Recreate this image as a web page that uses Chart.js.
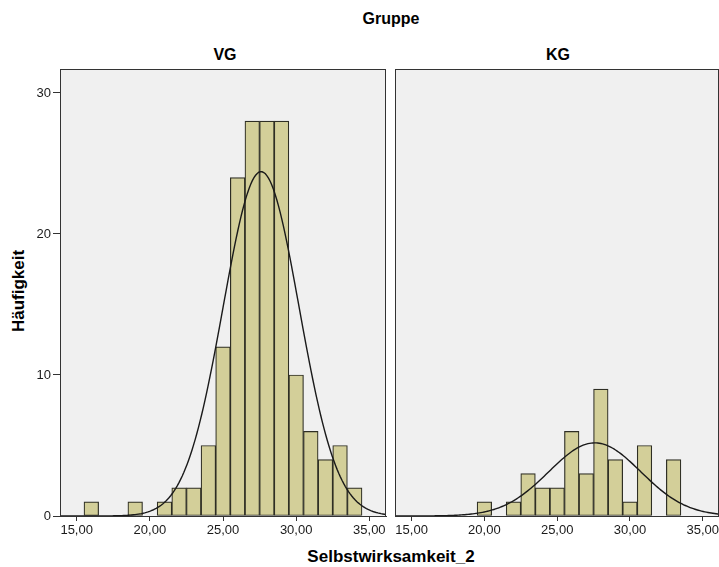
<!DOCTYPE html>
<html>
<head>
<meta charset="utf-8">
<script src="https://cdn.jsdelivr.net/npm/chart.js@4/dist/chart.umd.min.js"></script>
<style>
  html, body { margin: 0; padding: 0; background: #fff; }
  body { width: 719px; height: 567px; position: relative; overflow: hidden; font-family: "Liberation Sans", Arial, sans-serif; }
  .panel { position: absolute; top: 0; height: 567px; }
  .lbl { position: absolute; font-weight: bold; color: #000; white-space: nowrap; transform: translate(-50%, -50%); font-size: 16px; }
</style>
</head>
<body>
<div class="lbl" style="left:391px; top:19px;">Gruppe</div>
<div class="lbl" style="left:225px; top:55px;">VG</div>
<div class="lbl" style="left:558px; top:55px;">KG</div>
<div class="lbl" style="left:19px; top:291px; font-size:17px; transform: translate(-50%, -50%) rotate(-90deg);">Häufigkeit</div>
<div class="lbl" style="left:391px; top:557px; font-size:17px;">Selbstwirksamkeit_2</div>

<div class="panel" style="left:0; width:390px;"><canvas id="vg"></canvas></div>
<div class="panel" style="left:390px; width:331px;"><canvas id="kg"></canvas></div>

<script>
// bin centres (width 1) and counts per group
const bins = [15, 16, 17, 18, 19, 20, 21, 22, 23, 24, 25, 26, 27, 28, 29, 30, 31, 32, 33, 34, 35];
const countsVG = [0, 1, 0, 0, 1, 0, 1, 2, 2, 5, 12, 24, 28, 28, 28, 10, 6, 4, 5, 2, 0];
const countsKG = [0, 0, 0, 0, 0, 1, 0, 1, 3, 2, 2, 6, 3, 9, 4, 1, 5, 0, 4, 0, 0];
const xTicks = [15, 20, 25, 30, 35];
const yTicks = [0, 10, 20, 30];

const X_MIN = 13.86, X_MAX = 36.14, Y_MAX = 31.7;
const barFill = '#d3cf99';
const barLine = '#2e2e24';
const axisCol = '#333333';

function barPoints(counts) {
  return bins.map((b, i) => ({ x: b, y: counts[i] })).filter(p => p.y > 0);
}

// normal curve fitted to the histogram (mean / sd of the binned data, scaled to N * bin width)
function normalCurve(counts) {
  let n = 0, s = 0;
  bins.forEach((b, i) => { n += counts[i]; s += b * counts[i]; });
  const mean = s / n;
  let ss = 0;
  bins.forEach((b, i) => { ss += counts[i] * (b - mean) * (b - mean); });
  const sd = Math.sqrt(ss / (n - 1));
  const pts = [];
  const steps = 200;
  for (let k = 0; k <= steps; k++) {
    const x = X_MIN + (X_MAX - X_MIN) * k / steps;
    const z = (x - mean) / sd;
    pts.push({ x: x, y: n / (sd * Math.sqrt(2 * Math.PI)) * Math.exp(-0.5 * z * z) });
  }
  return pts;
}

const panelBox = {
  id: 'panelBox',
  beforeDatasetsDraw(chart) {
    const a = chart.chartArea, ctx = chart.ctx;
    ctx.save();
    ctx.fillStyle = '#f0f0f0';
    ctx.fillRect(a.left, a.top, a.right - a.left, a.bottom - a.top);
    ctx.restore();
  },
  afterDraw(chart) {
    const a = chart.chartArea, ctx = chart.ctx;
    ctx.save();
    ctx.strokeStyle = axisCol;
    ctx.lineWidth = 1;
    ctx.strokeRect(Math.round(a.left) + 0.5, Math.round(a.top) + 0.5,
      Math.round(a.right - a.left) - 1, Math.round(a.bottom - a.top));
    ctx.restore();
  }
};

function makeChart(id, counts, showY, padLeft, padRight, yWidth) {
  return new Chart(document.getElementById(id), {
    data: {
      datasets: [
        {
          type: 'line',
          data: normalCurve(counts),
          borderColor: '#1a1a1a',
          borderWidth: 1.4,
          pointRadius: 0,
          tension: 0,
          order: 0
        },
        {
          type: 'bar',
          data: barPoints(counts),
          backgroundColor: barFill,
          borderColor: barLine,
          borderWidth: 1.2,
          borderSkipped: false,
          barPercentage: 1,
          categoryPercentage: 1,
          order: 1
        }
      ]
    },
    options: {
      responsive: true,
      maintainAspectRatio: false,
      animation: false,
      events: [],
      layout: { padding: { top: 69, left: padLeft, right: padRight, bottom: 0 } },
      plugins: { legend: { display: false }, tooltip: { enabled: false } },
      scales: {
        x: {
          type: 'linear',
          offset: false,
          min: X_MIN,
          max: X_MAX,
          afterBuildTicks: (s) => { s.ticks = xTicks.map(v => ({ value: v })); },
          afterFit: (s) => { s.height = 51; },
          grid: { offset: false, drawOnChartArea: false, drawTicks: true, tickLength: 5, color: axisCol },
          border: { display: true, color: axisCol },
          ticks: {
            padding: 2,
            color: '#1a1a1a',
            maxRotation: 0,
            autoSkip: false,
            font: { family: '"Liberation Sans", Arial, sans-serif', size: 13 },
            callback: (v) => v.toFixed(2).replace('.', ',')
          }
        },
        y: {
          min: 0,
          max: Y_MAX,
          afterBuildTicks: (s) => { s.ticks = yTicks.map(v => ({ value: v })); },
          afterFit: (s) => { s.width = yWidth; },
          grid: { drawOnChartArea: false, drawTicks: showY, tickLength: 7, color: axisCol },
          border: { display: true, color: axisCol },
          ticks: {
            display: showY,
            padding: 2,
            color: '#1a1a1a',
            font: { family: '"Liberation Sans", Arial, sans-serif', size: 13 }
          }
        }
      }
    },
    plugins: [panelBox]
  });
}

makeChart('vg', countsVG, true, 0, 4, 60);
makeChart('kg', countsKG, false, 0, 0, 5);
</script>
</body>
</html>
